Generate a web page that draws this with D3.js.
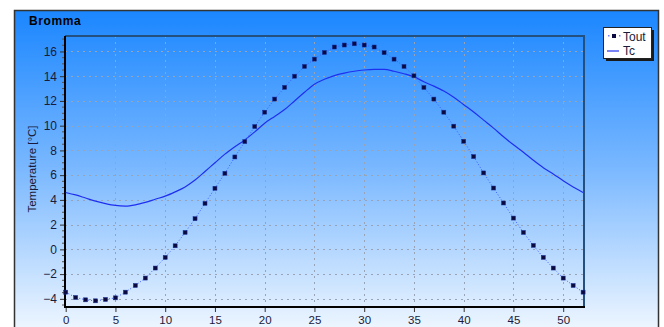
<!DOCTYPE html>
<html><head><meta charset="utf-8">
<script src="https://cdn.jsdelivr.net/npm/d3@7"></script>
<style>body{margin:0;background:#fff;overflow:hidden}svg{display:block}</style>
</head><body>
<script>
const weeks = d3.range(0, 53);
const tout = [-3.46,-3.89,-4.08,-4.16,-4.05,-3.92,-3.46,-2.92,-2.32,-1.51,-0.65,0.29,1.37,2.48,3.72,4.94,6.15,7.47,8.71,9.93,11.09,12.15,13.1,14.0,14.79,15.38,15.92,16.36,16.52,16.62,16.52,16.36,15.9,15.38,14.79,14.03,13.09,12.15,11.09,9.96,8.74,7.5,6.18,4.96,3.75,2.53,1.37,0.32,-0.65,-1.51,-2.32,-2.92,-3.46];
const tc = [4.6,4.4,4.15,3.9,3.7,3.55,3.5,3.6,3.8,4.05,4.3,4.65,5.05,5.6,6.3,7.0,7.7,8.3,8.85,9.5,10.2,10.75,11.3,12.0,12.7,13.35,13.75,14.05,14.25,14.4,14.5,14.55,14.55,14.4,14.2,13.95,13.55,13.2,12.8,12.3,11.7,11.1,10.45,9.8,9.1,8.45,7.85,7.2,6.6,6.1,5.55,5.05,4.6];
const xTicks = d3.range(0, 55, 5);
const yTicks = d3.range(-4, 17, 2);
const title = "Bromma";
const yLabel = "Temperature [°C]";
const seriesNames = ["Tout", "Tc"];

(function(){
const W = 664, H = 327;
const svg = d3.select("body").append("svg").attr("width", W).attr("height", H);
const defs = svg.append("defs");
const g1 = defs.append("linearGradient").attr("id","bg").attr("gradientUnits","userSpaceOnUse")
  .attr("x1",0).attr("y1",10).attr("x2",0).attr("y2",327);
g1.append("stop").attr("offset","0").attr("stop-color","#1a86ff");
g1.append("stop").attr("offset","0.5").attr("stop-color","#7ab8ff");
g1.append("stop").attr("offset","1").attr("stop-color","#ecf5ff");

svg.append("rect").attr("x",14.5).attr("y",10.5).attr("width",644).attr("height",330)
  .attr("fill","url(#bg)").attr("stroke","#333").attr("stroke-width",1.5);

const pl = 65, pr = 584, pt = 36, pb = 307;
const x = d3.scaleLinear().domain([0, 52]).range([65.7, 583.1]);
const y = d3.scaleLinear().domain([-4.66, 17.25]).range([pb, pt]);

svg.append("rect").attr("x",pl).attr("y",pt).attr("width",pr-pl).attr("height",pb-pt)
  .attr("fill","url(#bg)");

const grid = svg.append("g").attr("stroke","#98a4b6").attr("stroke-width",1).attr("stroke-dasharray","2,4");
grid.selectAll(".gx").data(xTicks.filter(d=>d>0)).join("line").attr("class","gx")
  .attr("x1",d=>Math.round(x(d))+0.5).attr("x2",d=>Math.round(x(d))+0.5).attr("y1",pt).attr("y2",pb);
grid.selectAll(".gy").data(yTicks).join("line").attr("class","gy")
  .attr("y1",d=>Math.round(y(d))+0.5).attr("y2",d=>Math.round(y(d))+0.5).attr("x1",pl).attr("x2",pr);

svg.append("line").attr("x1",pl).attr("x2",pr+1).attr("y1",pt).attr("y2",pt).attr("stroke","#24507f").attr("stroke-width",2);
svg.append("line").attr("x1",pr).attr("x2",pr).attr("y1",pt).attr("y2",pb).attr("stroke","#24507f").attr("stroke-width",2);

const xAxis = d3.axisBottom(x).tickValues(xTicks).tickSize(5).tickPadding(2).tickFormat(d3.format("d"));
const gx = svg.append("g").attr("transform",`translate(0,${pb})`).call(xAxis);
gx.select(".domain").remove();
gx.selectAll("text").attr("font-family","Liberation Sans, Arial, sans-serif").attr("font-size",11.5).attr("fill","#1a1a3a").attr("dy","0.85em");
gx.selectAll("line").attr("stroke","#333");

const yAxis = d3.axisLeft(y).tickValues(yTicks).tickSize(5).tickFormat(d3.format("d"));
const gy = svg.append("g").attr("transform",`translate(${pl},0)`).call(yAxis);
gy.select(".domain").remove();
gy.selectAll("text").attr("font-family","Liberation Sans, Arial, sans-serif").attr("font-size",12).attr("fill","#1a1a3a").attr("x",-8);
gy.selectAll("line").attr("stroke","#333");
const minor = d3.range(-4.5, 17.01, 0.5).filter(v => Math.abs(v % 2) > 1e-6);
svg.append("g").selectAll("line").data(minor).join("line")
  .attr("x1",pl-3).attr("x2",pl).attr("y1",d=>y(d)).attr("y2",d=>y(d)).attr("stroke","#555");

svg.append("line").attr("x1",pl).attr("x2",pl).attr("y1",pt).attr("y2",pb+1).attr("stroke","#000").attr("stroke-width",2);
svg.append("line").attr("x1",pl-1).attr("x2",pr+1).attr("y1",pb).attr("y2",pb).attr("stroke","#000").attr("stroke-width",2);

const line = d3.line().x((d,i)=>x(weeks[i])).y(d=>y(d)).curve(d3.curveMonotoneX);
svg.append("path").datum(tc).attr("d",line).attr("fill","none").attr("stroke","#1f2ff0").attr("stroke-width",1.2);
svg.append("path").datum(tout).attr("d",d3.line().x((d,i)=>x(weeks[i])).y(d=>y(d))).attr("fill","none")
  .attr("stroke","#3a5cff").attr("stroke-width",1).attr("stroke-dasharray","1,2");
svg.append("g").selectAll("rect").data(tout).join("rect")
  .attr("x",(d,i)=>x(weeks[i])-2).attr("y",d=>y(d)-2).attr("width",4).attr("height",4)
  .attr("fill","#0a0a40").attr("stroke","#1830a0").attr("stroke-width",0.5);

svg.append("text").attr("x",29).attr("y",25).text(title)
  .attr("font-family","Liberation Sans, Arial, sans-serif").attr("font-weight","bold").attr("font-size",12).attr("letter-spacing",0.6).attr("fill","#000");

svg.append("text").attr("transform","translate(36,169) rotate(-90)").attr("text-anchor","middle").text(yLabel)
  .attr("font-family","Liberation Sans, Arial, sans-serif").attr("font-size",11.5).attr("fill","#1a1a3a");

const lg = svg.append("g");
lg.append("rect").attr("x",606).attr("y",30).attr("width",48).attr("height",31).attr("fill","#1a1a1a");
lg.append("rect").attr("x",603.5).attr("y",27.5).attr("width",48).attr("height",31).attr("fill","#fff").attr("stroke","#222").attr("stroke-width",1);
lg.append("rect").attr("x",612).attr("y",34).attr("width",4).attr("height",4).attr("fill","#0a0a40");
lg.append("rect").attr("x",608).attr("y",35).attr("width",1.5).attr("height",1.5).attr("fill","#7080ff");
lg.append("rect").attr("x",619).attr("y",35).attr("width",1.5).attr("height",1.5).attr("fill","#7080ff");
lg.append("line").attr("x1",607).attr("x2",619).attr("y1",51).attr("y2",51).attr("stroke","#1f2ff0").attr("stroke-width",1.2);
lg.selectAll("text").data(seriesNames).join("text")
  .attr("x",623).attr("y",(d,i)=>41+i*14).text(d=>d)
  .attr("font-family","Liberation Sans, Arial, sans-serif").attr("font-size",12).attr("fill","#1a1a3a");
})();
</script>
</body></html>
